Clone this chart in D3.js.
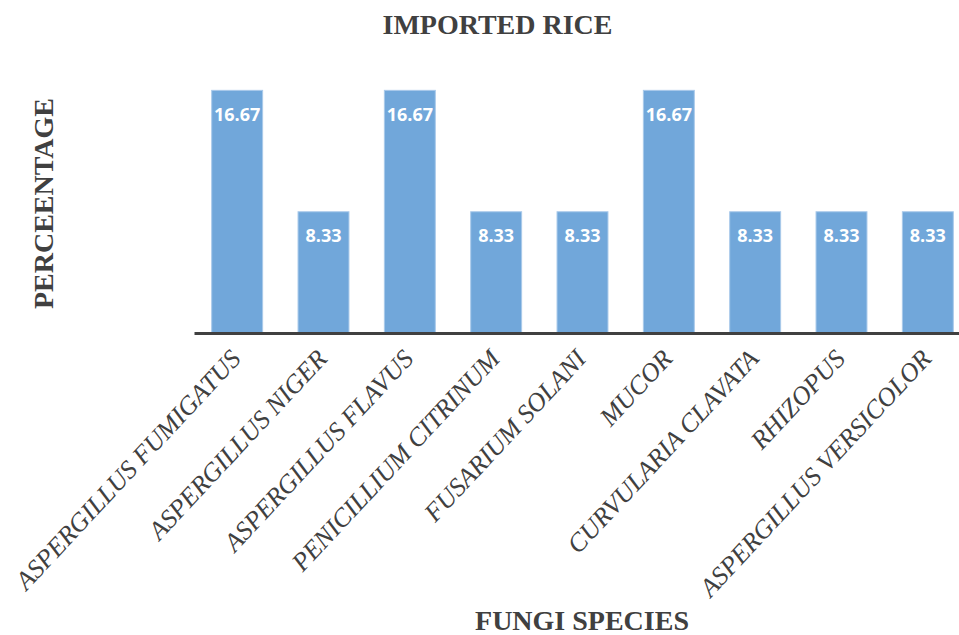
<!DOCTYPE html>
<html>
<head>
<meta charset="utf-8">
<script src="https://cdn.jsdelivr.net/npm/d3@7"></script>
<style>
  html, body { margin: 0; padding: 0; background: #ffffff; }
  svg { display: block; }
</style>
</head>
<body>
<div id="chart"></div>
<script>
// Fungal species isolated from imported rice samples (% of isolates)
const species = [
  "ASPERGILLUS FUMIGATUS",
  "ASPERGILLUS NIGER",
  "ASPERGILLUS FLAVUS",
  "PENICILLIUM CITRINUM",
  "FUSARIUM SOLANI",
  "MUCOR",
  "CURVULARIA CLAVATA",
  "RHIZOPUS",
  "ASPERGILLUS VERSICOLOR"
];
const percentages = [16.67, 8.33, 16.67, 8.33, 8.33, 16.67, 8.33, 8.33, 8.33];

const chartTitle = "IMPORTED RICE";
const xTitle = "FUNGI SPECIES";
const yTitle = "PERCEENTAGE";

const W = 959, H = 635;
const serif = "'Liberation Serif', 'Times New Roman', serif";
const textColor = "#404040";

const svg = d3.select("#chart").append("svg")
  .attr("width", W).attr("height", H);

const x = d3.scaleBand()
  .domain(species)
  .range([194, 971])
  .paddingInner(0.41)
  .paddingOuter(0.205);

const y = d3.scaleLinear()
  .domain([0, 18])
  .range([333, 71]);

const rows = species.map((s, i) => ({ s, v: percentages[i] }));

// Bars
svg.append("g").selectAll("rect")
  .data(rows)
  .join("rect")
  .attr("x", d => x(d.s))
  .attr("y", d => y(d.v))
  .attr("width", x.bandwidth())
  .attr("height", d => y(0) - y(d.v))
  .attr("fill", "#71a7da")
  .attr("stroke", "#a9c9ea")
  .attr("stroke-width", 1);

// Value labels inside the top of each bar
svg.append("g").selectAll("text")
  .data(rows)
  .join("text")
  .attr("x", d => x(d.s) + x.bandwidth() / 2)
  .attr("y", d => y(d.v) + 30.5)
  .attr("text-anchor", "middle")
  .attr("font-family", "'Open Sans', sans-serif")
  .attr("font-weight", 700)
  .attr("font-size", 18)
  .attr("fill", "#ffffff")
  .text(d => d.v.toFixed(2));

// Category axis: baseline plus rotated italic labels
const xAxis = svg.append("g")
  .attr("transform", `translate(0,${y(0)})`)
  .call(d3.axisBottom(x).tickSize(0).tickPadding(0));

xAxis.select(".domain")
  .attr("stroke", "#404040")
  .attr("stroke-width", 3);

xAxis.selectAll(".tick text")
  .attr("font-family", serif)
  .attr("font-style", "italic")
  .attr("font-size", 26)
  .attr("fill", textColor)
  .attr("text-anchor", "end")
  .attr("dy", 0)
  .attr("transform", "translate(5,27) rotate(-47)");

// Titles
svg.append("text")
  .attr("x", 497.5).attr("y", 34)
  .attr("text-anchor", "middle")
  .attr("font-family", serif).attr("font-weight", 700)
  .attr("font-size", 28).attr("fill", textColor)
  .text(chartTitle);

svg.append("text")
  .attr("transform", "translate(53,203.5) rotate(-90)")
  .attr("text-anchor", "middle")
  .attr("font-family", serif).attr("font-weight", 700)
  .attr("font-size", 28).attr("fill", textColor)
  .text(yTitle);

svg.append("text")
  .attr("x", 582).attr("y", 630)
  .attr("text-anchor", "middle")
  .attr("font-family", serif).attr("font-weight", 700)
  .attr("font-size", 28).attr("fill", textColor)
  .text(xTitle);
</script>
</body>
</html>
